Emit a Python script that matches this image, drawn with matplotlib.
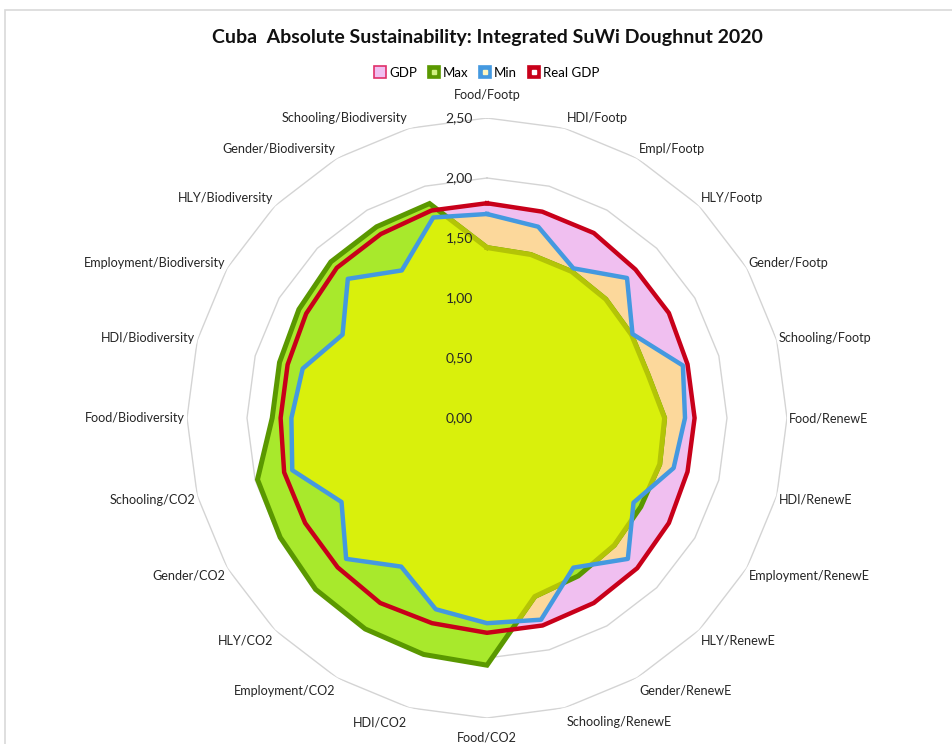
#!/usr/bin/env python3
"""Radar (SuWi doughnut) for Cuba 2020 -> out.png"""
import numpy as np
import matplotlib
matplotlib.use("Agg")
import matplotlib.pyplot as plt
from matplotlib.lines import Line2D
from matplotlib.legend_handler import HandlerTuple
from matplotlib.patches import Rectangle

W, H = 953, 744
FONT = "Lato"

categories = ["Food/Footp", "HDI/Footp", "Empl/Footp", "HLY/Footp", "Gender/Footp", "Schooling/Footp",
              "Food/RenewE", "HDI/RenewE", "Employment/RenewE", "HLY/RenewE", "Gender/RenewE", "Schooling/RenewE",
              "Food/CO2", "HDI/CO2", "Employment/CO2", "HLY/CO2", "Gender/CO2", "Schooling/CO2",
              "Food/Biodiversity", "HDI/Biodiversity", "Employment/Biodiversity", "HLY/Biodiversity",
              "Gender/Biodiversity", "Schooling/Biodiversity"]

gdp = [1.79, 1.78, 1.78, 1.75, 1.75, 1.73, 1.73, 1.73, 1.75, 1.77, 1.78, 1.79,
       1.79, 1.77, 1.78, 1.76, 1.75, 1.75, 1.72, 1.72, 1.74, 1.77, 1.77, 1.79]
real_gdp = [1.79, 1.78, 1.78, 1.75, 1.75, 1.73, 1.73, 1.73, 1.75, 1.77, 1.78, 1.79,
            1.79, 1.77, 1.78, 1.76, 1.75, 1.75, 1.72, 1.72, 1.74, 1.77, 1.77, 1.79]
max_v = [1.42, 1.41, 1.41, 1.40, 1.39, 1.39, 1.48, 1.49, 1.48, 1.50, 1.52, 1.54,
         2.06, 2.04, 2.03, 2.02, 1.99, 1.98, 1.79, 1.79, 1.81, 1.84, 1.84, 1.85]
min_v = [1.70, 1.65, 1.44, 1.65, 1.40, 1.69, 1.65, 1.61, 1.41, 1.66, 1.44, 1.74,
         1.71, 1.65, 1.43, 1.66, 1.40, 1.68, 1.63, 1.59, 1.39, 1.64, 1.42, 1.73]
rings = [0.0, 0.5, 1.0, 1.5, 2.0, 2.5]
ring_labels = ["0,00", "0,50", "1,00", "1,50", "2,00", "2,50"]

PINK, ORANGE = "#f0bff0", "#fcd89b"
LGREEN, DGREEN = "#a8e92c", "#5a9800"
YELLOW, OLIVE = "#d9f00c", "#b3c407"
BLUE, RED = "#4499e0", "#c8001a"
GRID = "#d4d4d4"


def closed(v):
    return list(v) + [v[0]]


fig = plt.figure(figsize=(W / 100, H / 100), dpi=100)
ax = fig.add_axes([(487 - 300) / W, (H - 418 - 300) / H, 600 / W, 600 / H], projection="polar")
ax.set_theta_zero_location("N"); ax.set_theta_direction(-1)
ax.set_ylim(0, 2.5)
ax.grid(False); ax.set_xticks([]); ax.set_yticks([])
ax.spines["polar"].set_visible(False)
ax.patch.set_alpha(0)

n = len(categories)
th = np.arange(n) * 2 * np.pi / n
thc = closed(th)

# polygon gridlines
for r in rings[1:]:
    ax.plot(thc, [r] * (n + 1), color=GRID, lw=1.0, zorder=0)

# filled series (Excel-like overlap colours)
ax.fill(th, gdp, color=PINK, lw=0, zorder=1)
min_patch = ax.fill(th, min_v, color=ORANGE, lw=0, zorder=2)[0]
max_patch = ax.fill(th, max_v, facecolor=LGREEN, edgecolor=DGREEN, lw=3.6, zorder=3)[0]
ax.fill(th, min_v, color=YELLOW, lw=0, zorder=4)[0].set_clip_path(max_patch)
ax.plot(thc, closed(max_v), color=OLIVE, lw=3.6, zorder=5)[0].set_clip_path(min_patch)
ax.plot(thc, closed(min_v), color=BLUE, lw=3.2, zorder=6)
ax.plot(thc, closed(real_gdp), color=RED, lw=3.2, zorder=7)

# value labels along the top spoke
for r, s in zip(rings, ring_labels):
    ax.annotate(s, (0, r), xytext=(-14, 0), textcoords="offset pixels", ha="right", va="center",
                fontsize=10, family=FONT, color="#262626", zorder=9, annotation_clip=False)

# category labels
for t, lab in zip(th, categories):
    s, c = np.sin(t), np.cos(t)
    if abs(s) < 0.01:
        ha, dx, dy = "center", 0, (23 if c > 0 else -20)
    else:
        ha = "left" if s > 0 else "right"
        dx = 2 * np.sign(s)
        dy = 11 * c if c > 0 else 15 * c
    ax.annotate(lab, (t, 2.5), xytext=(dx, dy), textcoords="offset pixels", ha=ha, va="center",
                fontsize=9.1, family=FONT, color="#262626", annotation_clip=False)

fig.text(487 / W, 1 - 37 / H, "Cuba  Absolute Sustainability: Integrated SuWi Doughnut 2020",
         ha="center", va="center", fontsize=14, fontweight="bold", family=FONT, color="#111111")

# legend, Excel style square markers
def mk(face, edge, dot):
    sq = Line2D([], [], ls="none", marker="s", markersize=8, markerfacecolor=face, markeredgecolor=edge, markeredgewidth=1.2)
    dt = Line2D([], [], ls="none", marker="s", markersize=2.2, markerfacecolor=dot, markeredgecolor=dot)
    return (sq, dt)

handles = [mk(PINK, "#e0306a", PINK), mk(DGREEN, DGREEN, "#d0f080"), mk(BLUE, BLUE, "#fff6c0"), mk(RED, RED, "white")]
fig.legend(handles, ["GDP", "Max", "Min", "Real GDP"], loc="center", bbox_to_anchor=(487 / W, 1 - 73 / H),
           ncol=4, frameon=False, handler_map={tuple: HandlerTuple(ndivide=1, pad=0)},
           handlelength=0.8, handletextpad=0.25, columnspacing=0.9, prop={"family": FONT, "size": 9.5})

# chart area border (Excel frame, cut by the image edges)
fig.patches.append(Rectangle((5 / W, -0.5), 2, 1.5 - 10 / H, transform=fig.transFigure,
                             fill=False, edgecolor="#d9d9d9", lw=1.2))

fig.savefig("out.png", dpi=100)
